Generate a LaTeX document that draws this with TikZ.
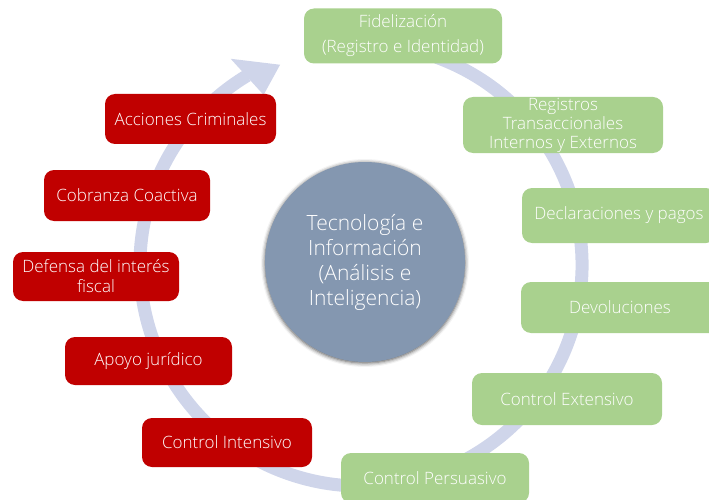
\documentclass[tikz,border=0pt]{standalone}
\usepackage{fontspec}
\setmainfont{Open Sans}[UprightFont={* Light}]
\usepackage{tikz}
\usetikzlibrary{shadows.blur}
\definecolor{greenbox}{HTML}{A9D18E}
\definecolor{redbox}{HTML}{C00000}
\definecolor{hubblue}{HTML}{8497B0}
\definecolor{ringblue}{HTML}{CFD5EA}

\begin{document}
\begin{tikzpicture}[x=1pt, y=1pt,
	box/.style={rectangle, rounded corners=10pt, text=white, align=center, inner sep=0pt, font=\fontsize{17}{19}\selectfont},
	greenstep/.style={box, fill=greenbox},
	redstep/.style={box, fill=redbox},
	ring/.style={draw=ringblue, line width=13pt},
	hub/.style={circle, fill=hubblue, text=white, align=center, minimum size=200pt, inner sep=0pt, font=\fontsize{21}{25}\selectfont, blur shadow={shadow xshift=0pt, shadow yshift=-1pt, shadow blur radius=4pt, shadow opacity=70}}]
			\clip (0,0) rectangle (709,499);
			% Cycle arrow behind everything
			\coordinate (ringc) at (361,234);
			\draw[ring] ([shift={(ringc)}]70:221) arc[start angle=70, end angle=-239, radius=221];
			\fill[ringblue] ([shift={(ringc)}]122.3:244) -- ([shift={(ringc)}]112:216) -- ([shift={(ringc)}]119.8:196) -- cycle;
			
			% Center
			\node[hub] at (365,237) (hub) {Tecnología e\\Información\\(Análisis e\\Inteligencia)};
			
			% Green steps
			\node[greenstep, minimum width=198pt, minimum height=55pt, font=\fontsize{17}{25}\selectfont] at (403,463) (fidel) {Fidelización\\(Registro e Identidad)};
			\node[greenstep, minimum width=200pt, minimum height=56pt] at (563,374) (regis) {Registros\\Transaccionales\\Internos y Externos};
			\node[greenstep, minimum width=194pt, minimum height=55pt] at (619,283.5) (decla) {Declaraciones y pagos};
			\node[greenstep, minimum width=198pt, minimum height=51pt] at (620,191.5) (devol) {Devoluciones};
			\node[greenstep, minimum width=190pt, minimum height=52pt] at (567,100) (cext) {Control Extensivo};
			\node[greenstep, minimum width=188pt, minimum height=50pt] at (435,21) (cpers) {Control Persuasivo};
			
			% Red steps
			\node[redstep, minimum width=170pt, minimum height=49pt] at (227,56.5) (cint) {Control Intensivo};
			\node[redstep, minimum width=167pt, minimum height=48pt] at (148.5,138) (apoyo) {Apoyo jurídico};
			\node[redstep, minimum width=166pt, minimum height=49pt, font=\fontsize{17}{20}\selectfont] at (96,222.5) (defen) {Defensa del interés\\fiscal};
			\node[redstep, minimum width=166pt, minimum height=51pt] at (127,303.5) (cobra) {Cobranza Coactiva};
			\node[redstep, minimum width=171pt, minimum height=50pt] at (190.5,380) (accio) {Acciones Criminales};
		\end{tikzpicture}
\end{document}
